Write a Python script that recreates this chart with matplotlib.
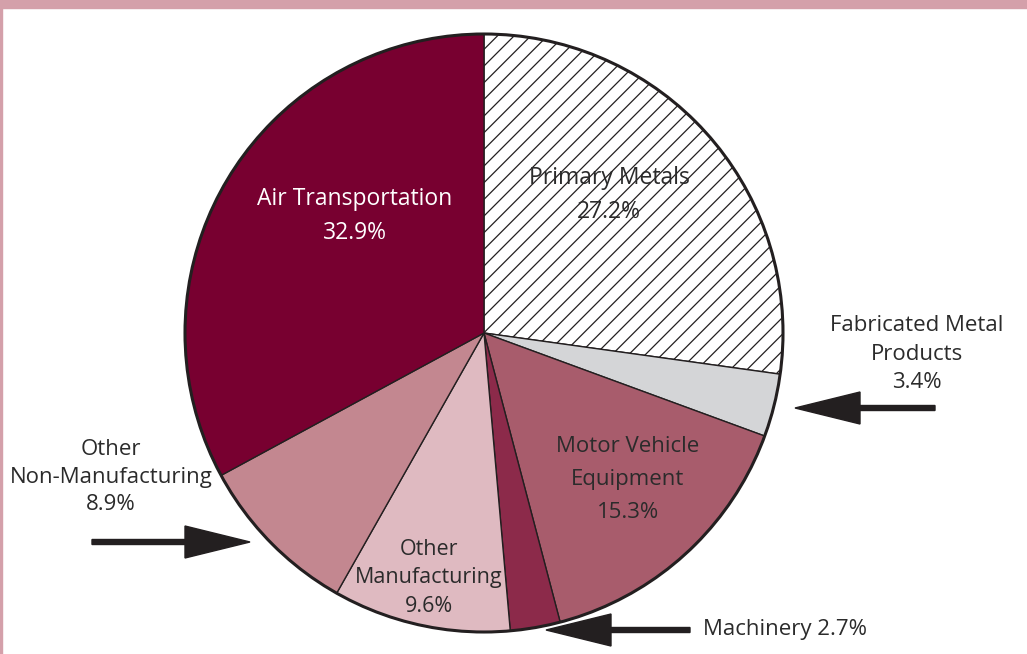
import matplotlib.pyplot as plt
from matplotlib.patches import Circle, Rectangle

plt.rcParams['font.family'] = ['Open Sans', 'DejaVu Sans']
plt.rcParams['hatch.linewidth'] = 0.9

# slices, clockwise from 12 o'clock
labels = ['Primary Metals', 'Fabricated Metal Products', 'Motor Vehicle Equipment',
          'Machinery', 'Other Manufacturing', 'Other Non-Manufacturing',
          'Air Transportation']
shares = [27.2, 3.4, 15.3, 2.7, 9.6, 8.9, 32.9]
colors = ['white', '#d4d5d7', '#a85c6c', '#8c2a4a', '#dfbac1', '#c38790', '#780030']
hatches = ['//', '', '', '', '', '', '']

W, H = 1027, 654
fig = plt.figure(figsize=(W / 100, H / 100), dpi=100)
ax = fig.add_axes([0, 0, 1, 1])

cx, cy, r = 484, H - 333, 299
wedges, _ = ax.pie(shares, colors=colors, startangle=90, counterclock=False,
                   center=(cx, cy), radius=r, frame=True,
                   wedgeprops=dict(edgecolor='#231f20', linewidth=1.0))
for w, h in zip(wedges, hatches):
    w.set_hatch(h)
ax.set_xlim(0, W)
ax.set_ylim(0, H)
ax.axis('off')
ax.add_patch(Circle((cx, cy), r, fill=False, edgecolor='#231f20', linewidth=2.2, zorder=5))

# frame decoration
ax.add_patch(Rectangle((0, H - 8), W, 8, color='#d4a0aa', zorder=6, clip_on=False))
ax.add_patch(Rectangle((0, 0), 2, H, color='#d4a0aa', zorder=6, clip_on=False))

txt = '#2b2b2b'
def label(x, y, s, color=txt, size=16, ha='center', ls=1.45):
    ax.text(x, H - y, s, ha=ha, va='center', color=color, fontsize=size,
            linespacing=ls, zorder=7)

label(355, 216, 'Air Transportation\n32.9%', color='white', size=16.5, ls=1.57)
label(609, 195, 'Primary Metals\n27.2%', size=16.5, ls=1.57)
label(628, 479, 'Motor Vehicle\nEquipment\n15.3%', ls=1.75)
label(429, 578, 'Other\nManufacturing\n9.6%', size=15.5, ls=1.46)
label(111, 477, 'Other\nNon-Manufacturing\n8.9%', ls=1.4)
label(917, 354, 'Fabricated Metal\nProducts\n3.4%', ls=1.45)
label(703, 630, 'Machinery 2.7%', ha='left')

arrow_kw = dict(width=5, head_width=32, head_length=65,
                length_includes_head=True, color='#231f20', zorder=8)
ax.arrow(935, H - 408, 795 - 935, 0, **arrow_kw)
ax.arrow(92, H - 542, 250 - 92, 0, **arrow_kw)
ax.arrow(690, H - 630, 546 - 690, 0, **arrow_kw)

fig.savefig('out.png', dpi=100)
